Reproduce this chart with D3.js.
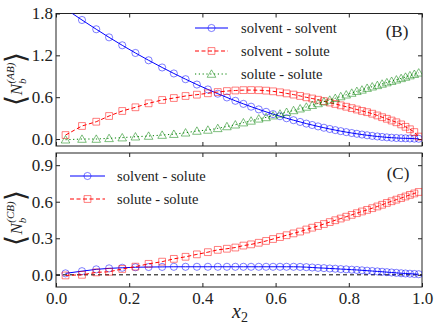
<!DOCTYPE html>
<html>
<head>
<meta charset="utf-8">
<script src="https://cdn.jsdelivr.net/npm/d3@7"></script>
<style>
body { margin: 0; background: #fff; }
svg { display: block; font-family: "Liberation Serif", serif; }
</style>
</head>
<body>
<div id="chart"></div>
<script>
// mole fraction of the solute (shared by every series)
const x2 = [0.026, 0.071, 0.110, 0.145, 0.181, 0.217, 0.253, 0.290, 0.322, 0.354,
	0.385, 0.415, 0.442, 0.467, 0.490, 0.512, 0.533, 0.554, 0.574, 0.593,
	0.612, 0.630, 0.649, 0.667, 0.684, 0.700, 0.716, 0.732, 0.748, 0.763,
	0.778, 0.793, 0.808, 0.822, 0.836, 0.850, 0.864, 0.878, 0.891, 0.904,
	0.917, 0.930, 0.943, 0.955, 0.967, 0.979, 0.991];

// panel (B): <N_b^(AB)>
const ab_solvent_solvent = [1.866, 1.707, 1.574, 1.458, 1.344, 1.234, 1.129, 1.026, 0.940, 0.858,
	0.781, 0.711, 0.650, 0.596, 0.548, 0.504, 0.464, 0.425, 0.390, 0.357,
	0.327, 0.298, 0.270, 0.245, 0.221, 0.201, 0.181, 0.162, 0.144, 0.128,
	0.113, 0.099, 0.086, 0.075, 0.064, 0.054, 0.045, 0.037, 0.030, 0.024,
	0.019, 0.015, 0.012, 0.010, 0.008, 0.006, 0.004];
const ab_solvent_solute = [0.057, 0.187, 0.248, 0.330, 0.402, 0.455, 0.512, 0.560, 0.588, 0.617,
	0.636, 0.656, 0.674, 0.688, 0.696, 0.701, 0.702, 0.700, 0.694, 0.684,
	0.670, 0.654, 0.637, 0.618, 0.598, 0.581, 0.563, 0.544, 0.523, 0.503,
	0.483, 0.463, 0.443, 0.423, 0.403, 0.385, 0.363, 0.338, 0.313, 0.290,
	0.265, 0.240, 0.210, 0.175, 0.140, 0.100, 0.035];
const ab_solute_solute = [-0.010, 0.000, 0.000, 0.010, 0.020, 0.033, 0.043, 0.057, 0.070, 0.090,
	0.115, 0.130, 0.153, 0.180, 0.205, 0.235, 0.260, 0.290, 0.310, 0.335,
	0.360, 0.385, 0.410, 0.435, 0.460, 0.485, 0.510, 0.535, 0.560, 0.585,
	0.610, 0.635, 0.660, 0.685, 0.705, 0.730, 0.750, 0.770, 0.790, 0.810,
	0.830, 0.850, 0.870, 0.890, 0.910, 0.930, 0.950];

// panel (C): <N_b^(CB)>
const cb_solvent_solute = [0.012, 0.030, 0.045, 0.053, 0.058, 0.062, 0.064, 0.065, 0.066, 0.066,
	0.066, 0.066, 0.066, 0.066, 0.066, 0.066, 0.066, 0.066, 0.066, 0.066,
	0.066, 0.066, 0.066, 0.065, 0.063, 0.060, 0.057, 0.055, 0.052, 0.050,
	0.047, 0.045, 0.042, 0.040, 0.037, 0.034, 0.031, 0.028, 0.025, 0.022,
	0.019, 0.016, 0.013, 0.011, 0.009, 0.007, 0.005];
const cb_solute_solute = [-0.005, 0.000, 0.020, 0.025, 0.048, 0.067, 0.090, 0.108, 0.131, 0.148,
	0.168, 0.186, 0.205, 0.214, 0.224, 0.240, 0.250, 0.263, 0.278, 0.294,
	0.310, 0.325, 0.340, 0.355, 0.372, 0.387, 0.401, 0.417, 0.433, 0.448,
	0.462, 0.477, 0.492, 0.506, 0.520, 0.533, 0.547, 0.561, 0.575, 0.590,
	0.604, 0.617, 0.630, 0.643, 0.656, 0.668, 0.680];

const x_ticks = [0.0, 0.2, 0.4, 0.6, 0.8, 1.0];
const b_ticks = [0.0, 0.6, 1.2, 1.8];
const c_ticks = [0.0, 0.3, 0.6, 0.9];

const width = 436, height = 327;
const frame = {left: 56, right: 422};
const panel_b = {top: 13.5, bottom: 146, domain: [-0.1, 1.8]};
const panel_c = {top: 153, bottom: 287, domain: [-0.1, 1.0]};
const ink = "#222222";
const serif = "'Liberation Serif', serif";
const tick_font = 17;

const styles = {
	blue: {color: "#0000ff", dash: null, marker: "circle"},
	red: {color: "#ff0000", dash: "4,2.5", marker: "square"},
	green: {color: "#008000", dash: "1.2,2.6", marker: "triangle"},
};

const svg = d3.select("#chart")
	.append("svg")
		.attr("width", width)
		.attr("height", height);

const x = d3.scaleLinear().domain([0, 1]).range([frame.left, frame.right]);

function draw_marker(g, kind, color, cx, cy) {
	let sym;
	if (kind == "circle") sym = d3.symbol(d3.symbolCircle, 40);
	else if (kind == "square") sym = d3.symbol(d3.symbolSquare, 46);
	else sym = d3.symbol(d3.symbolTriangle, 32);
	g.append("path")
		.attr("d", sym())
		.attr("transform", "translate(" + cx + "," + (kind == "triangle" ? cy + 0.8 : cy) + ")")
		.attr("fill", "none")
		.attr("stroke", color)
		.attr("stroke-opacity", 0.5)
		.attr("stroke-width", 1);
}

function make_panel(p, ticks, show_x_labels, clip_id) {
	const y = d3.scaleLinear().domain(p.domain).range([p.bottom, p.top]);
	const g = svg.append("g");

	g.append("clipPath").attr("id", clip_id)
		.append("rect")
			.attr("x", frame.left).attr("y", p.top)
			.attr("width", frame.right - frame.left).attr("height", p.bottom - p.top);

	const axes = [
		[d3.axisBottom(x).tickValues(x_ticks).tickPadding(5), "translate(0," + p.bottom + ")", show_x_labels],
		[d3.axisTop(x).tickValues(x_ticks), "translate(0," + p.top + ")", false],
		[d3.axisLeft(y).tickValues(ticks).tickPadding(3), "translate(" + frame.left + ",0)", true],
		[d3.axisRight(y).tickValues(ticks), "translate(" + frame.right + ",0)", false],
	];
	for (const [axis, tr, labels] of axes) {
		axis.tickSizeInner(-4).tickSizeOuter(0).tickFormat(labels ? d3.format(".1f") : "");
		const a = g.append("g").attr("transform", tr).call(axis);
		a.select(".domain").remove();
		a.selectAll("line").attr("stroke", ink);
		a.selectAll("text")
			.attr("fill", ink)
			.style("font-family", serif)
			.style("font-size", tick_font + "px");
	}
	g.append("rect")
		.attr("x", frame.left).attr("y", p.top)
		.attr("width", frame.right - frame.left).attr("height", p.bottom - p.top)
		.attr("fill", "none").attr("stroke", ink).attr("stroke-width", 1);

	const plot = g.append("g").attr("clip-path", "url(#" + clip_id + ")");
	return {y: y, plot: plot};
}

function draw_series(panel, values, style) {
	const pts = x2.map((v, i) => [x(v), panel.y(values[i])]);
	const mg = panel.plot.append("g");
	for (const [px, py] of pts) draw_marker(mg, style.marker, style.color, px, py);
	panel.plot.append("path")
		.attr("d", d3.line()(pts))
		.attr("fill", "none")
		.attr("stroke", style.color)
		.attr("stroke-width", 1)
		.attr("stroke-dasharray", style.dash);
}

function legend(entries, x0, x1, tx, y0, dy) {
	entries.forEach(([label, style], i) => {
		const yy = y0 + i * dy;
		svg.append("line")
			.attr("x1", x0).attr("x2", x1).attr("y1", yy).attr("y2", yy)
			.attr("stroke", style.color).attr("stroke-width", 1)
			.attr("stroke-dasharray", style.dash);
		draw_marker(svg, style.marker, style.color, (x0 + x1) / 2, yy);
		svg.append("text")
			.attr("x", tx).attr("y", yy)
			.attr("dy", "0.33em")
			.attr("fill", ink)
			.style("font-family", serif)
			.style("font-size", "14.5px")
			.text(label);
	});
}

// panel (B)
const pb = make_panel(panel_b, b_ticks, false, "clip_b");
draw_series(pb, ab_solvent_solvent, styles.blue);
draw_series(pb, ab_solvent_solute, styles.red);
draw_series(pb, ab_solute_solute, styles.green);
legend([["solvent - solvent", styles.blue], ["solvent - solute", styles.red], ["solute - solute", styles.green]],
	195, 228, 241, 28, 23);
svg.append("text").attr("x", 397).attr("y", 31).attr("dy", "0.35em")
	.attr("text-anchor", "middle").attr("fill", ink)
	.style("font-family", serif).style("font-size", "17px").text("(B)");

// panel (C)
const pc = make_panel(panel_c, c_ticks, true, "clip_c");
pc.plot.append("line")
	.attr("x1", x(0)).attr("x2", x(1)).attr("y1", pc.y(0)).attr("y2", pc.y(0))
	.attr("stroke", "#000").attr("stroke-width", 1).attr("stroke-dasharray", "4,3");
draw_series(pc, cb_solvent_solute, styles.blue);
draw_series(pc, cb_solute_solute, styles.red);
legend([["solvent - solute", styles.blue], ["solute - solute", styles.red]],
	70, 105, 117, 176, 23);
svg.append("text").attr("x", 398).attr("y", 173).attr("dy", "0.35em")
	.attr("text-anchor", "middle").attr("fill", ink)
	.style("font-family", serif).style("font-size", "17px").text("(C)");

// axis titles
const xt = svg.append("text").attr("x", 240).attr("y", 318)
	.attr("text-anchor", "middle").attr("fill", ink)
	.style("font-family", serif).style("font-size", "20px");
xt.append("tspan").style("font-style", "italic").text("x");
xt.append("tspan").attr("dy", 4).style("font-size", "14px").text("2");

function y_title(cy, sup) {
	const t = svg.append("text")
		.attr("transform", "translate(22," + cy + ") rotate(-90)")
		.attr("text-anchor", "middle").attr("fill", ink)
		.style("font-family", serif).style("font-size", "17px");
	t.append("tspan").style("font-size", "28px").attr("dy", 3).text("\u27E8");
	t.append("tspan").style("font-style", "italic").attr("dy", -3).text("N");
	t.append("tspan").style("font-style", "italic").style("font-size", "11px").attr("dy", 4).text("b");
	t.append("tspan").style("font-style", "italic").style("font-size", "11px").attr("dx", -5).attr("dy", -12).text(sup);
	t.append("tspan").style("font-size", "28px").attr("dy", 11).text("\u27E9");
}
y_title(79, "(AB)");
y_title(218, "(CB)");
</script>
</body>
</html>
